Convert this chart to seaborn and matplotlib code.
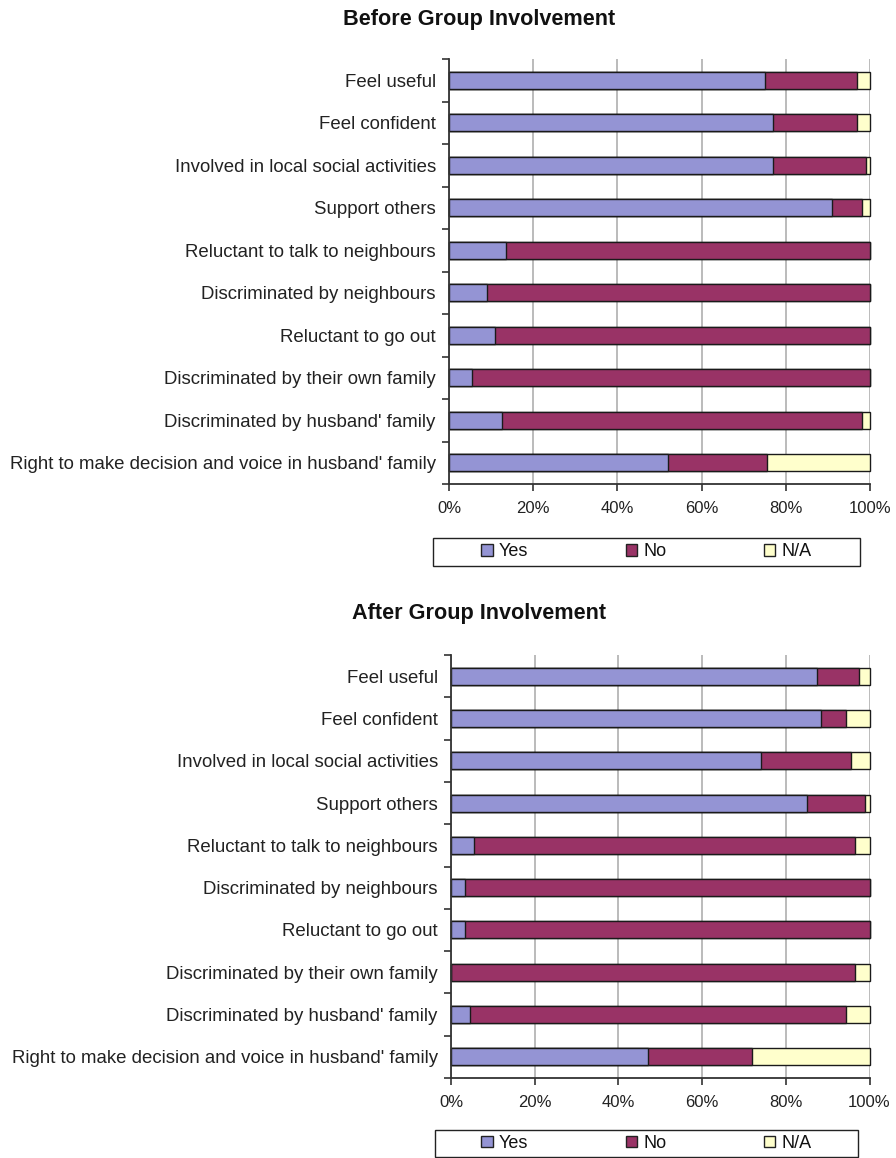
import matplotlib
matplotlib.use("Agg")
import matplotlib.pyplot as plt
import seaborn as sns
import numpy as np
import pandas as pd
from matplotlib.patches import Patch, Rectangle
from matplotlib.ticker import FixedLocator, PercentFormatter

categories = [
    "Feel useful",
    "Feel confident",
    "Involved in local social activities",
    "Support others",
    "Reluctant to talk to neighbours",
    "Discriminated by neighbours",
    "Reluctant to go out",
    "Discriminated by their own family",
    "Discriminated by husband' family",
    "Right to make decision and voice in husband' family",
]

before_yes = [75, 77, 77, 91, 13.5, 9, 11, 5.5, 12.5, 52]
before_no = [22, 20, 22, 7, 86.5, 91, 89, 94.5, 85.5, 23.5]
before_na = [3, 3, 1, 2, 0, 0, 0, 0, 2, 24.5]

after_yes = [87.5, 88.5, 74, 85, 5.5, 3.3, 3.3, 0, 4.5, 47]
after_no = [10, 6, 21.5, 14, 91, 96.7, 96.7, 96.5, 90, 25]
after_na = [2.5, 5.5, 4.5, 1, 3.5, 0, 0, 3.5, 5.5, 28]

series_names = ["Yes", "No", "N/A"]
colors = ["#9494D4", "#993366", "#FFFFCC"]

titles = ["Before Group Involvement", "After Group Involvement"]

sns.set_theme(style="white")
plt.rcParams["font.family"] = ["Liberation Sans", "DejaVu Sans"]

W, H = 896, 1158
fig = plt.figure(figsize=(W / 100, H / 100), dpi=100)

def fx(px):
    return px / W

def fy(py):
    return 1 - py / H

ax_px = [(449, 870, 59, 484), (451, 869.5, 655, 1078)]
title_px = [(479, 19), (479, 614)]
legend_px = [(433, 860, 538, 566), (435, 858, 1130, 1157)]

datasets = [
    (before_yes, before_no, before_na),
    (after_yes, after_no, after_na),
]

for i, (yes, no, na) in enumerate(datasets):
    l, r, t, b = ax_px[i]
    ax = fig.add_axes([fx(l), fy(b), fx(r - l), (b - t) / H])
    yes = np.array(yes, dtype=float)
    no = np.array(no, dtype=float)
    na = np.array(na, dtype=float)
    df = pd.DataFrame({"cat": categories, "yes": yes,
                       "cum_no": yes + no, "cum_na": yes + no + na})
    for col, c in zip(["cum_na", "cum_no", "yes"], [colors[2], colors[1], colors[0]]):
        sns.barplot(data=df, x=col, y="cat", order=categories, orient="h",
                    color=c, saturation=1, width=0.4, edgecolor="#1a1a1a",
                    linewidth=1.0, ax=ax, errorbar=None)
    for p in ax.patches:
        p.set_clip_on(False)
    ax.set_xlim(0, 100)
    ax.set_ylim(len(categories) - 0.5, -0.5)
    ax.set_xlabel("")
    ax.set_ylabel("")
    ax.xaxis.set_major_locator(FixedLocator([0, 20, 40, 60, 80, 100]))
    ax.xaxis.set_major_formatter(PercentFormatter(decimals=0))
    ax.grid(axis="x", color="#BBBBBB", linewidth=1.4)
    ax.set_axisbelow(True)
    for s in ["top", "right"]:
        ax.spines[s].set_visible(False)
    for s in ["left", "bottom"]:
        ax.spines[s].set_color("#333333")
        ax.spines[s].set_linewidth(1.3)
    ax.tick_params(axis="x", which="major", direction="out", length=5, width=1.2,
                   color="#333333", labelsize=12, pad=7, bottom=True)
    ax.tick_params(axis="y", which="major", length=0, labelsize=13.4, pad=9.5)
    ax.yaxis.set_minor_locator(FixedLocator(np.arange(-0.5, len(categories) + 0.5, 1)))
    ax.tick_params(axis="y", which="minor", direction="out", length=5, width=1.2,
                   color="#333333", left=True)
    for lab in ax.get_xticklabels() + ax.get_yticklabels():
        lab.set_color("#222222")

    fig.text(fx(title_px[i][0]), fy(title_px[i][1]), titles[i], ha="center", va="center",
             fontsize=15.6, fontweight="bold", color="#111111")

    ll, lr, lt, lb = legend_px[i]
    fig.add_artist(Rectangle((fx(ll), fy(lb)), fx(lr - ll), (lb - lt) / H,
                             transform=fig.transFigure, facecolor="white",
                             edgecolor="#222222", linewidth=1.0, zorder=1))
    handles = [Patch(facecolor=c, edgecolor="#222222", linewidth=1.0) for c in colors]
    leg = fig.legend(handles, series_names, loc="center",
                     bbox_to_anchor=(fx((ll + lr) / 2), fy((lt + lb) / 2)),
                     ncol=3, frameon=False, fontsize=13,
                     handlelength=0.62, handleheight=0.62, handletextpad=0.35,
                     columnspacing=5.4, borderaxespad=0, borderpad=0)
    leg.set_zorder(2)
    for txt in leg.get_texts():
        txt.set_color("#111111")

fig.savefig("out.png", dpi=100)
